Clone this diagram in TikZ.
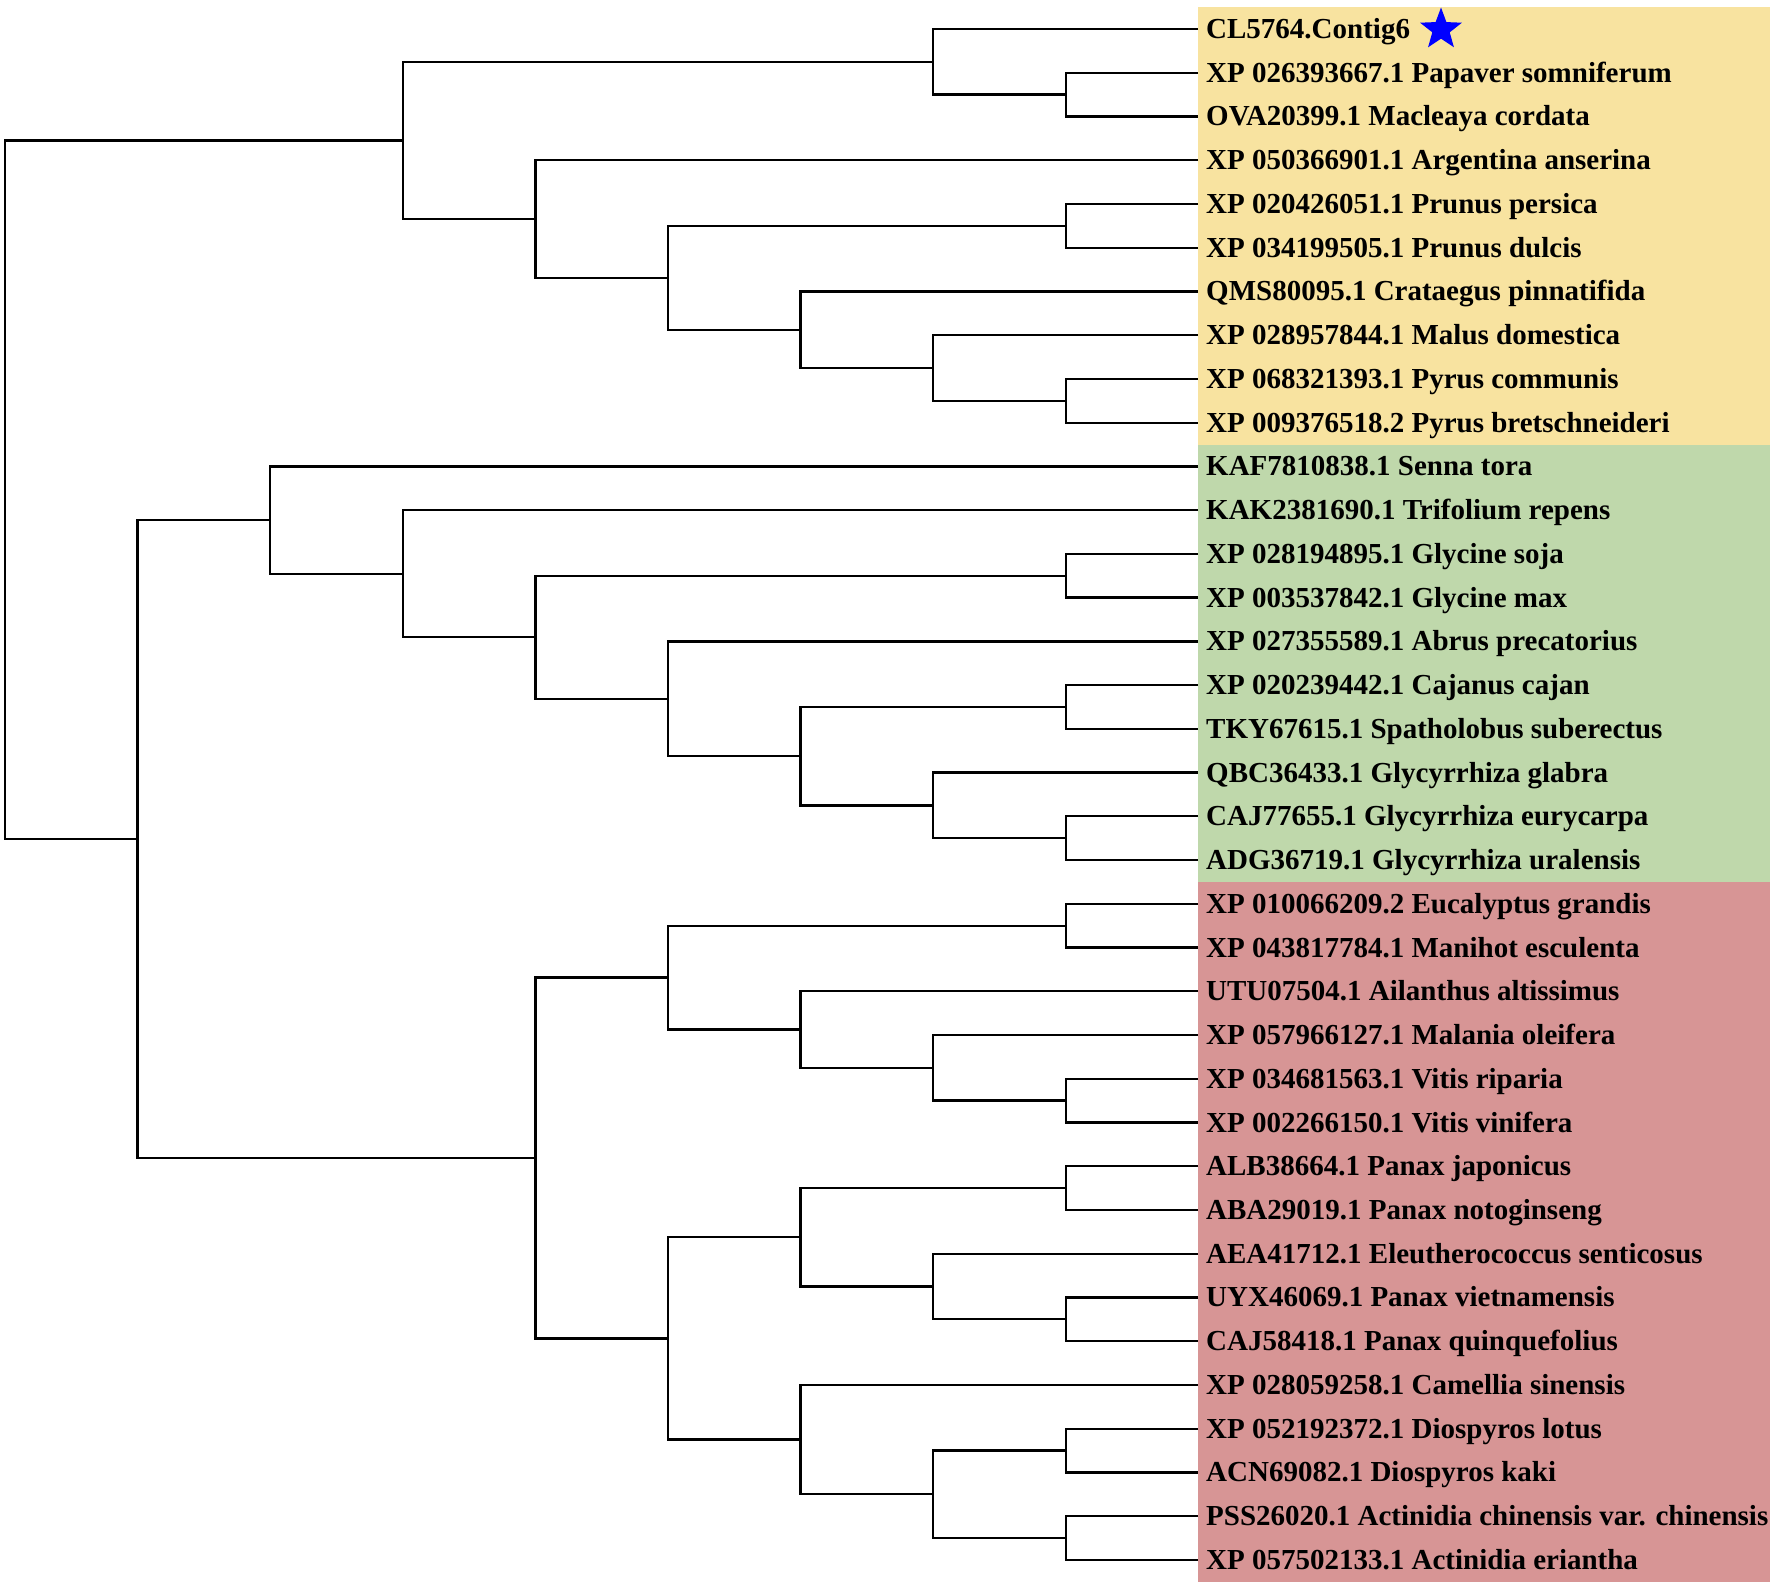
\documentclass[tikz,border=0pt]{standalone}
\usepackage{fontspec}
\setmainfont{Liberation Serif}
\usetikzlibrary{calc,shapes.geometric}
\definecolor{bgyellow}{RGB}{248,227,160}
\definecolor{bggreen}{RGB}{191,216,171}
\definecolor{bgred}{RGB}{215,149,149}
\tikzset{
  branch/.style={draw=black, line width=2.3pt},
  leaflabel/.style={anchor=west, inner xsep=8pt, inner ysep=0pt, text height=19pt, text depth=0pt,
    font=\bfseries\fontsize{29}{31}\selectfont},
  mark star/.style={star, star points=5, star point ratio=2.4, fill=blue, draw=none, minimum size=44pt, inner sep=0pt}
}
\newcommand\clade[4]{%
  \coordinate (#1m) at ($(#3)!.5!(#4)$);
  \coordinate (#1) at (#1m -| #2);
  \draw[branch] (#3) -| (#1) |- (#4);
}
\begin{document}
\begin{tikzpicture}[x=1pt,y=-1pt]
\useasboundingbox (0,0) rectangle (1772,1586);
% background bands
\fill[bgyellow] (1198,7.1) rectangle (1770,444.5);
\fill[bggreen] (1198,444.5) rectangle (1770,882);
\fill[bgred] (1198,882) rectangle (1770,1582);
% level x positions
\foreach \k/\xx in {0/5,1/137.6,2/270.2,3/402.8,4/535.4,5/668,6/800.6,7/933.2,8/1065.8}
  \coordinate (X\k) at (\xx,0);
% leaves
\foreach \t [count=\i] in {
CL5764.Contig6,
XP 026393667.1 Papaver somniferum,
OVA20399.1 Macleaya cordata,
XP 050366901.1 Argentina anserina,
XP 020426051.1 Prunus persica,
XP 034199505.1 Prunus dulcis,
QMS80095.1 Crataegus pinnatifida,
XP 028957844.1 Malus domestica,
XP 068321393.1 Pyrus communis,
XP 009376518.2 Pyrus bretschneideri,
KAF7810838.1 Senna tora,
KAK2381690.1 Trifolium repens,
XP 028194895.1 Glycine soja,
XP 003537842.1 Glycine max,
XP 027355589.1 Abrus precatorius,
XP 020239442.1 Cajanus cajan,
TKY67615.1 Spatholobus suberectus,
QBC36433.1 Glycyrrhiza glabra,
CAJ77655.1 Glycyrrhiza eurycarpa,
ADG36719.1 Glycyrrhiza uralensis,
XP 010066209.2 Eucalyptus grandis,
XP 043817784.1 Manihot esculenta,
UTU07504.1 Ailanthus altissimus,
XP 057966127.1 Malania oleifera,
XP 034681563.1 Vitis riparia,
XP 002266150.1 Vitis vinifera,
ALB38664.1 Panax japonicus,
ABA29019.1 Panax notoginseng,
AEA41712.1 Eleutherococcus senticosus,
UYX46069.1 Panax vietnamensis,
CAJ58418.1 Panax quinquefolius,
XP 028059258.1 Camellia sinensis,
XP 052192372.1 Diospyros lotus,
ACN69082.1 Diospyros kaki,
PSS26020.1 Actinidia chinensis var. chinensis,
XP 057502133.1 Actinidia eriantha}
  \node[leaflabel] (L\i) at (1198,{29+43.74*(\i-1)}) {\t};
\node[mark star] (star) at (1441,29.5) {};
% yellow clade
\clade{a1}{X8}{L2.west}{L3.west}
\clade{A1}{X7}{L1.west}{a1}
\clade{p1}{X8}{L5.west}{L6.west}
\clade{p2}{X8}{L9.west}{L10.west}
\clade{q}{X7}{L8.west}{p2}
\clade{r}{X6}{L7.west}{q}
\clade{s}{X5}{p1}{r}
\clade{A2}{X4}{L4.west}{s}
\clade{A}{X3}{A1}{A2}
% green clade
\clade{g1}{X8}{L13.west}{L14.west}
\clade{g2}{X8}{L16.west}{L17.west}
\clade{g3}{X8}{L19.west}{L20.west}
\clade{g4}{X7}{L18.west}{g3}
\clade{g5}{X6}{g2}{g4}
\clade{g6}{X5}{L15.west}{g5}
\clade{g7}{X4}{g1}{g6}
\clade{g8}{X3}{L12.west}{g7}
\clade{B1}{X2}{L11.west}{g8}
% red clade
\clade{r1}{X8}{L21.west}{L22.west}
\clade{r2}{X8}{L25.west}{L26.west}
\clade{r3}{X7}{L24.west}{r2}
\clade{r4}{X6}{L23.west}{r3}
\clade{C}{X5}{r1}{r4}
\clade{r5}{X8}{L27.west}{L28.west}
\clade{r6}{X8}{L30.west}{L31.west}
\clade{r7}{X7}{L29.west}{r6}
\clade{D1}{X6}{r5}{r7}
\clade{r8}{X8}{L33.west}{L34.west}
\clade{r9}{X8}{L35.west}{L36.west}
\clade{r10}{X7}{r8}{r9}
\clade{D2}{X6}{L32.west}{r10}
\clade{D}{X5}{D1}{D2}
\clade{B2}{X4}{C}{D}
\clade{B}{X1}{B1}{B2}
\clade{root}{X0}{A}{B}
\end{tikzpicture}
\end{document}
